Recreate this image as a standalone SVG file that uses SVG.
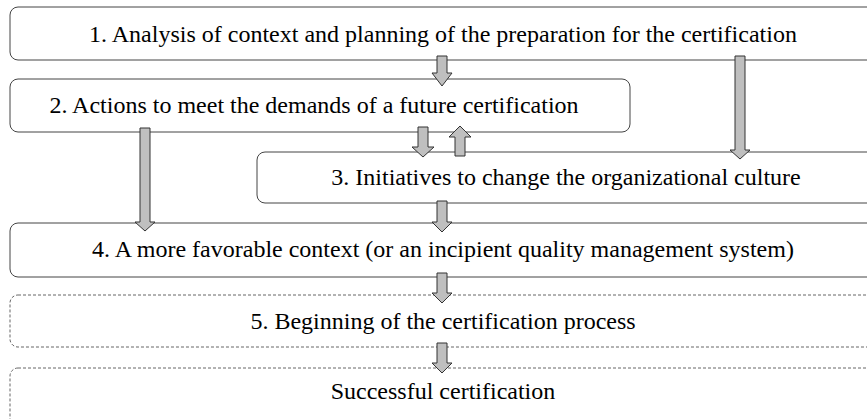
<svg xmlns="http://www.w3.org/2000/svg" width="867" height="419" viewBox="0 0 867 419">
<style>
.box{fill:#fff;stroke:#444;stroke-width:1}
.dash{fill:#fff;stroke:#666;stroke-width:1;stroke-dasharray:3 2}
.t{font-family:'Liberation Serif','Times New Roman',serif;font-size:24px;fill:#000;text-anchor:middle}
.arr{fill:#bfbfbf;stroke:#333;stroke-width:1}
</style>
<g id="n1"><rect class="box" x="10" y="7" width="866" height="53" rx="8"/><text class="t" x="443" y="42">1. Analysis of context and planning of the preparation for the certification</text></g>
<g id="n2"><rect class="box" x="10" y="79" width="620" height="53" rx="8"/><text class="t" x="314" y="113">2. Actions to meet the demands of a future certification</text></g>
<g id="n3"><rect class="box" x="257" y="152" width="619" height="51" rx="8"/><text class="t" x="566" y="185">3. Initiatives to change the organizational culture</text></g>
<g id="n4"><rect class="box" x="10" y="223" width="866" height="54" rx="8"/><text class="t" x="443" y="257">4. A more favorable context (or an incipient quality management system)</text></g>
<g id="n5"><rect class="dash" x="10" y="295" width="866" height="52" rx="8"/><text class="t" x="443" y="329">5. Beginning of the certification process</text></g>
<g id="n6"><rect class="dash" x="10" y="368" width="866" height="60" rx="8"/><text class="t" x="443" y="399">Successful certification</text></g>
<g id="connectors">
<path class="arr" d="M437,56 H447 V73 H452 L442,86 L432,73 H437 Z"/>
<path class="arr" d="M418,127 H428 V147 H434 L423,157 L412,147 H418 Z"/>
<path class="arr" d="M455,156 H465 V137 H471 L460,126 L449,137 H455 Z"/>
<path class="arr" d="M140,128 H150 V222 H155 L145,231 L135,222 H140 Z"/>
<path class="arr" d="M735,56 H745 V150 H750 L740,159 L730,150 H735 Z"/>
<path class="arr" d="M437,201 H447 V222 H452 L442,232 L432,222 H437 Z"/>
<path class="arr" d="M437,273 H447 V293 H452 L442,303 L432,293 H437 Z"/>
<path class="arr" d="M437,343 H447 V363 H452 L442,373 L432,363 H437 Z"/>
</g>
</svg>
